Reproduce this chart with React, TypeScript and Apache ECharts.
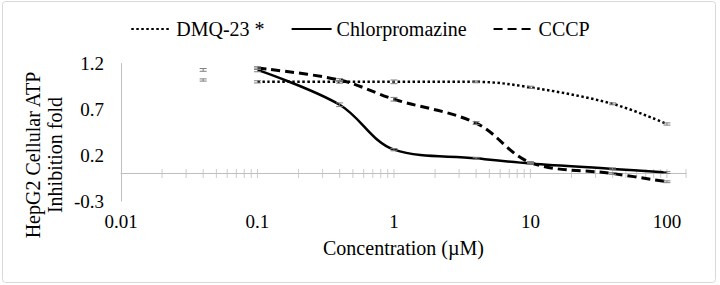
import { useEffect, useRef } from "react";
import * as echarts from "echarts";

// Concentrations (µM)
const concentrations = [0.1, 0.4, 1, 4, 10, 40, 100];
// Series values (HepG2 Cellular ATP inhibition fold)
const dmq23 = [1.0, 1.0, 1.0, 1.0, 0.94, 0.76, 0.54];
const chlorpromazine = [1.13, 0.75, 0.26, 0.166, 0.11, 0.05, 0.01];
const cccp = [1.15, 1.02, 0.81, 0.55, 0.12, 0.0, -0.09];
// Error bar half-widths
const dmq23Err = [0.012, 0.015, 0.02, 0.01, 0.012, 0.01, 0.012];
const chlorpromazineErr = [0.02, 0.02, 0.012, 0.01, 0.01, 0.01, 0.01];
const cccpErr = [0.015, 0.015, 0.02, 0.015, 0.01, 0.01, 0.01];
// Extra points at 0.04 µM (error bars only)
const extraConc = [0.04, 0.04];
const extraValues = [1.13, 1.02];
const extraErr = [0.015, 0.012];
// Axis ticks (log axis, crossing tick marks)
const axisTickValues = [
  0.02, 0.03, 0.04, 0.05, 0.06, 0.07, 0.08, 0.09, 0.1,
  0.2, 0.3, 0.4, 0.5, 0.6, 0.7, 0.8, 0.9, 1,
  2, 3, 4, 5, 6, 7, 8, 9, 10,
  20, 30, 40, 50, 60, 70, 80, 90, 100, 138,
];
const xMin = 0.01;
const xMax = 138;
const yMin = -0.3;
const yMax = 1.2;
const yInterval = 0.5;

const FONT = "Liberation Serif";

export default function App() {
  const ref = useRef<HTMLDivElement>(null);

  useEffect(() => {
    document.body.style.margin = "0";
    if (!ref.current) return;
    const chart = echarts.init(ref.current, undefined, { renderer: "svg" });

    const pairs = (vals: number[]) => concentrations.map((c, i) => [c, vals[i]]);
    const errData = [
      ...concentrations.map((c, i) => [c, dmq23[i], dmq23Err[i]]),
      ...concentrations.map((c, i) => [c, chlorpromazine[i], chlorpromazineErr[i]]),
      ...concentrations.map((c, i) => [c, cccp[i], cccpErr[i]]),
      ...extraConc.map((c, i) => [c, extraValues[i], extraErr[i]]),
    ];

    const errStyle = { stroke: "#7f7f7f", lineWidth: 1 };

    chart.setOption({
      animation: false,
      backgroundColor: "#ffffff",
      textStyle: { fontFamily: FONT },
      grid: { left: 121, right: 34, top: 63.5, bottom: 84, containLabel: false },
      legend: {
        data: ["DMQ-23 *", "Chlorpromazine", "CCCP"],
        left: "center",
        top: 14,
        itemWidth: 40,
        itemHeight: 14,
        itemGap: 26,
        selectedMode: false,
        itemStyle: { opacity: 0 },
        textStyle: { fontFamily: FONT, fontSize: 20, color: "#000" },
      },
      xAxis: [
        {
          type: "log",
          min: xMin,
          max: xMax,
          axisLine: { show: true, onZero: true, lineStyle: { color: "#bfbfbf", width: 1 } },
          axisTick: { show: false },
          axisLabel: { show: false },
          splitLine: { show: false },
          minorSplitLine: { show: false },
        },
        {
          type: "log",
          min: xMin,
          max: xMax,
          position: "bottom",
          axisLine: { show: false, onZero: false },
          axisTick: { show: false },
          splitLine: { show: false },
          axisLabel: {
            show: true,
            margin: 11,
            showMaxLabel: false,
            fontFamily: FONT,
            fontSize: 19,
            color: "#000",
            formatter: (v: number) => String(parseFloat(v.toPrecision(6))),
          },
          name: "Concentration (µM)",
          nameLocation: "middle",
          nameGap: 37,
          nameTextStyle: { fontFamily: FONT, fontSize: 20, color: "#000" },
        },
      ],
      yAxis: {
        type: "value",
        min: yMin,
        max: yMax,
        interval: yInterval,
        axisLine: { show: true, onZero: false, lineStyle: { color: "#bfbfbf", width: 1 } },
        axisTick: { show: false },
        splitLine: { show: false },
        axisLabel: {
          margin: 17,
          fontFamily: FONT,
          fontSize: 19,
          color: "#000",
          formatter: (v: number) => v.toFixed(1),
        },
      },
      graphic: [
        {
          type: "rect",
          shape: { x: 2.5, y: 1.5, width: 713, height: 281, r: 3 },
          style: { fill: "none", stroke: "#d9d9d9", lineWidth: 1 },
          silent: true,
        },
        {
          type: "text",
          x: 44,
          y: 155,
          rotation: Math.PI / 2,
          style: {
            text: "HepG2 Cellular ATP\nInhibition fold",
            fontFamily: FONT,
            fontSize: 20,
            lineHeight: 22,
            fill: "#000",
            align: "center",
            verticalAlign: "middle",
          },
          silent: true,
        },
      ],
      series: [
        {
          name: "ticks",
          type: "scatter",
          xAxisIndex: 0,
          data: axisTickValues.map((v) => [v, 0]),
          symbol: "rect",
          symbolSize: [1, 9],
          itemStyle: { color: "#bfbfbf" },
          silent: true,
          clip: false,
          z: 1,
        },
        {
          name: "DMQ-23 *",
          type: "line",
          xAxisIndex: 0,
          data: pairs(dmq23),
          symbol: "none",
          smooth: 0.35,
          lineStyle: { color: "#000", width: 2.5, type: [2.5, 2.5] },
          itemStyle: { color: "#000" },
          z: 3,
        },
        {
          name: "Chlorpromazine",
          type: "line",
          xAxisIndex: 0,
          data: pairs(chlorpromazine),
          symbol: "none",
          smooth: 0.35,
          lineStyle: { color: "#000", width: 2.5, type: "solid" },
          itemStyle: { color: "#000" },
          z: 3,
        },
        {
          name: "CCCP",
          type: "line",
          xAxisIndex: 0,
          data: pairs(cccp),
          symbol: "none",
          smooth: 0.35,
          lineStyle: { color: "#000", width: 3, type: [9, 5] },
          itemStyle: { color: "#000" },
          z: 3,
        },
        {
          name: "errors",
          type: "custom",
          xAxisIndex: 0,
          data: errData,
          encode: { x: 0, y: 1 },
          silent: true,
          z: 4,
          renderItem: (_params: any, api: any) => {
            const x = api.value(0);
            const y = api.value(1);
            const e = api.value(2);
            const top = api.coord([x, y + e]);
            const bot = api.coord([x, y - e]);
            const hw = 3.5;
            return {
              type: "group",
              children: [
                { type: "line", shape: { x1: top[0], y1: top[1], x2: bot[0], y2: bot[1] }, style: errStyle },
                { type: "line", shape: { x1: top[0] - hw, y1: top[1], x2: top[0] + hw, y2: top[1] }, style: errStyle },
                { type: "line", shape: { x1: bot[0] - hw, y1: bot[1], x2: bot[0] + hw, y2: bot[1] }, style: errStyle },
              ],
            };
          },
        },
      ],
    });

    return () => chart.dispose();
  }, []);

  return <div ref={ref} style={{ width: 720, height: 285 }} />;
}
